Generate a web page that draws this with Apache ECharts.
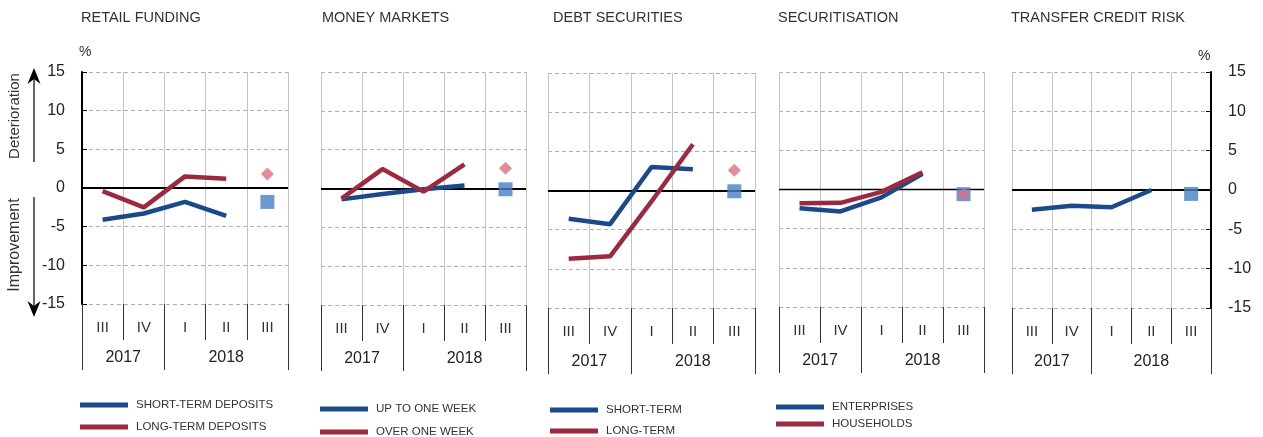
<!DOCTYPE html>
<html>
<head>
<meta charset="utf-8">
<script src="https://cdn.jsdelivr.net/npm/echarts@6/dist/echarts.min.js"></script>
<style>
html,body{margin:0;padding:0;background:#fff;}
#c{width:1263px;height:437px;}
</style>
</head>
<body>
<div id="c"></div>
<script>
// ---- data ----
const quarters = ['III', 'IV', 'I', 'II', 'III'];
const yearLabels = ['', '', '2017', '', '', '', '', '2018', '', '', ''];
const panelTitles = ['RETAIL FUNDING', 'MONEY MARKETS', 'DEBT SECURITIES', 'SECURITISATION', 'TRANSFER CREDIT RISK'];

const seriesNames1 = ['SHORT-TERM DEPOSITS', 'LONG-TERM DEPOSITS'];
const seriesNames2 = ['UP TO ONE WEEK', 'OVER ONE WEEK'];
const seriesNames3 = ['SHORT-TERM', 'LONG-TERM'];
const seriesNames4 = ['ENTERPRISES', 'HOUSEHOLDS'];
const seriesNames5 = ['TRANSFER CREDIT RISK'];

const retailShort = [-4.1, -3.3, -1.8, -3.6];
const retailLong = [-0.4, -2.5, 1.5, 1.2];
const retailShortExp = -1.8;
const retailLongExp = 1.8;

const mmShort = [-1.4, -0.7, -0.1, 0.4];
const mmLong = [-1.3, 2.5, -0.4, 3.1];
const mmShortExp = -0.1;
const mmLongExp = 2.6;

const debtShort = [-3.6, -4.3, 3.0, 2.7];
const debtLong = [-8.7, -8.4, -1.4, 5.9];
const debtShortExp = -0.1;
const debtLongExp = 2.6;

const secEnt = [-2.4, -2.8, -1.0, 2.0];
const secHh = [-1.75, -1.7, -0.3, 2.2];
const secEntExp = -0.6;
const secHhExp = -0.6;

const tcr = [-2.5, -2.0, -2.2, 0.0];
const tcrExp = -0.5;

// ---- build ----
const FONT = '"Liberation Sans", Arial, sans-serif';
const BLUE = '#1b4a8b';
const RED = '#9c2a3e';
const SQ = '#4a7fc2';
const DIA = '#de6f7f';

const panels = [
  {names: seriesNames1, lines: [retailShort, retailLong], exp: [retailShortExp, retailLongExp]},
  {names: seriesNames2, lines: [mmShort, mmLong], exp: [mmShortExp, mmLongExp]},
  {names: seriesNames3, lines: [debtShort, debtLong], exp: [debtShortExp, debtLongExp]},
  {names: seriesNames4, lines: [secEnt, secHh], exp: [secEntExp, secHhExp]},
  {names: seriesNames5, lines: [tcr], exp: [tcrExp]}
];

const gridLayout = [
  {left: 82, width: 206, top: 72, height: 232},
  {left: 321, width: 205, top: 72, height: 233},
  {left: 548, width: 207, top: 73, height: 235},
  {left: 779, width: 205, top: 72, height: 235},
  {left: 1012, width: 199, top: 72, height: 236}
];
const titleLeft = [81, 322, 553, 778, 1011];
const zeroWidth = [2, 2, 2, 1.3, 2];

// quarter labels placed between boundary points
const quarterPts = [];
quarters.forEach(q => { quarterPts.push('', q); });
quarterPts.push('');

const grids = [], xAxes = [], yAxes = [], series = [], titles = [];

panels.forEach((p, i) => {
  grids.push(Object.assign({containLabel: false}, gridLayout[i]));
  titles.push({text: panelTitles[i], left: titleLeft[i], top: 10, padding: 0,
    textStyle: {fontFamily: FONT, fontSize: 14.5, fontWeight: 'normal', color: '#333'}});
  const edge = (i === 0 || i === 4);
  yAxes.push({
    gridIndex: i, type: 'value', min: -15, max: 15, interval: 5,
    position: i === 4 ? 'right' : 'left',
    axisLine: {show: edge, lineStyle: {color: '#000', width: 2}},
    axisTick: {show: edge, inside: true, length: 5, lineStyle: {color: '#000'}},
    axisLabel: {show: edge, fontFamily: FONT, fontSize: 16, color: '#222', margin: 17},
    splitLine: {show: true, lineStyle: {color: '#b0b0b0', type: [4, 3], width: 1}}
  });
  // data axis (hidden)
  xAxes.push({
    gridIndex: i, type: 'category', data: quarters, boundaryGap: true, position: 'bottom',
    axisLine: {show: false}, axisTick: {show: false}, axisLabel: {show: false}, splitLine: {show: false}
  });
  // quarter boundaries & labels
  xAxes.push({
    gridIndex: i, type: 'category', data: quarterPts, boundaryGap: false, position: 'bottom',
    axisLine: {show: false},
    axisTick: {show: true, length: 36, interval: (idx) => idx % 2 === 0, lineStyle: {color: '#333'}},
    axisLabel: {interval: 0, fontFamily: FONT, fontSize: 15, color: '#333', margin: 16},
    splitLine: {show: true, interval: (idx) => idx % 2 === 0, lineStyle: {color: '#c4c4c4', width: 1}}
  });
  // year boundaries & labels
  xAxes.push({
    gridIndex: i, type: 'category', data: yearLabels, boundaryGap: false, position: 'bottom',
    axisLine: {show: false},
    axisTick: {show: true, length: 66, interval: (idx) => idx === 0 || idx === 4 || idx === 10,
      lineStyle: {color: '#333'}},
    axisLabel: {interval: 0, fontFamily: FONT, fontSize: 16, color: '#222', margin: 46},
    splitLine: {show: false}
  });
  const colors = [BLUE, RED];
  p.lines.forEach((vals, k) => {
    const s = {
      name: p.names[k], type: 'line', xAxisIndex: 3 * i, yAxisIndex: i,
      data: vals.concat(['-']), showSymbol: false, symbol: 'none',
      lineStyle: {color: colors[k], width: 4.5}, itemStyle: {color: colors[k]},
      z: 5 + k, silent: true, animation: false
    };
    if (k === 0) {
      s.markLine = {silent: true, symbol: 'none', label: {show: false}, animation: false,
        lineStyle: {color: '#000', width: zeroWidth[i], type: 'solid'}, data: [{yAxis: 0}]};
    }
    series.push(s);
  });
  const symbols = ['rect', 'diamond'];
  const sizes = [14, [13, 13]];
  const symColors = [SQ, DIA];
  p.exp.forEach((v, k) => {
    series.push({
      name: p.names[k] + ' (expected)', type: 'scatter', xAxisIndex: 3 * i, yAxisIndex: i,
      data: ['-', '-', '-', '-', v], symbol: symbols[k], symbolSize: sizes[k],
      itemStyle: {color: symColors[k]}, z: 8 + k, silent: true, animation: false
    });
  });
});

// one legend component per item (icon left x, item centre y)
const legendItems = [
  {name: seriesNames1[0], left: 80, cy: 405},
  {name: seriesNames1[1], left: 80, cy: 427},
  {name: seriesNames2[0], left: 320, cy: 409},
  {name: seriesNames2[1], left: 320, cy: 432},
  {name: seriesNames3[0], left: 550, cy: 410},
  {name: seriesNames3[1], left: 550, cy: 431},
  {name: seriesNames4[0], left: 776, cy: 407},
  {name: seriesNames4[1], left: 776, cy: 424}
];
const legends = legendItems.map(l => ({
  data: [l.name], left: l.left, top: l.cy - 7, padding: 0, orient: 'horizontal',
  icon: 'rect', itemWidth: 48, itemHeight: 5, selectedMode: false,
  textStyle: {fontFamily: FONT, fontSize: 11.5, color: '#333', lineHeight: 14, padding: [0, 0, 0, 3]}
}));

const chart = echarts.init(document.getElementById('c'), null, {renderer: 'canvas'});
chart.setOption({
  animation: false,
  title: titles,
  grid: grids,
  xAxis: xAxes,
  yAxis: yAxes,
  legend: legends,
  series: series,
  graphic: [
    {type: 'text', left: 79, top: 45, style: {text: '%', font: '14px ' + FONT, fill: '#333'}},
    {type: 'text', left: 1198, top: 49, style: {text: '%', font: '14px ' + FONT, fill: '#333'}},
    {type: 'text', x: 15, y: 116, rotation: Math.PI / 2,
      style: {text: 'Deterioration', font: '15px ' + FONT, fill: '#333', align: 'center', verticalAlign: 'middle'}},
    {type: 'text', x: 15, y: 245, rotation: Math.PI / 2,
      style: {text: 'Improvement', font: '16px ' + FONT, fill: '#333', align: 'center', verticalAlign: 'middle'}},
    {type: 'line', shape: {x1: 34, y1: 162, x2: 34, y2: 76}, style: {stroke: '#000', lineWidth: 1.2}},
    {type: 'polygon', shape: {points: [[34, 68], [27.5, 84], [34, 79], [40.5, 84]]}, style: {fill: '#000'}},
    {type: 'line', shape: {x1: 34, y1: 197, x2: 34, y2: 309}, style: {stroke: '#000', lineWidth: 1.2}},
    {type: 'polygon', shape: {points: [[34, 317], [27.5, 301], [34, 306], [40.5, 301]]}, style: {fill: '#000'}}
  ]
});
</script>
</body>
</html>
